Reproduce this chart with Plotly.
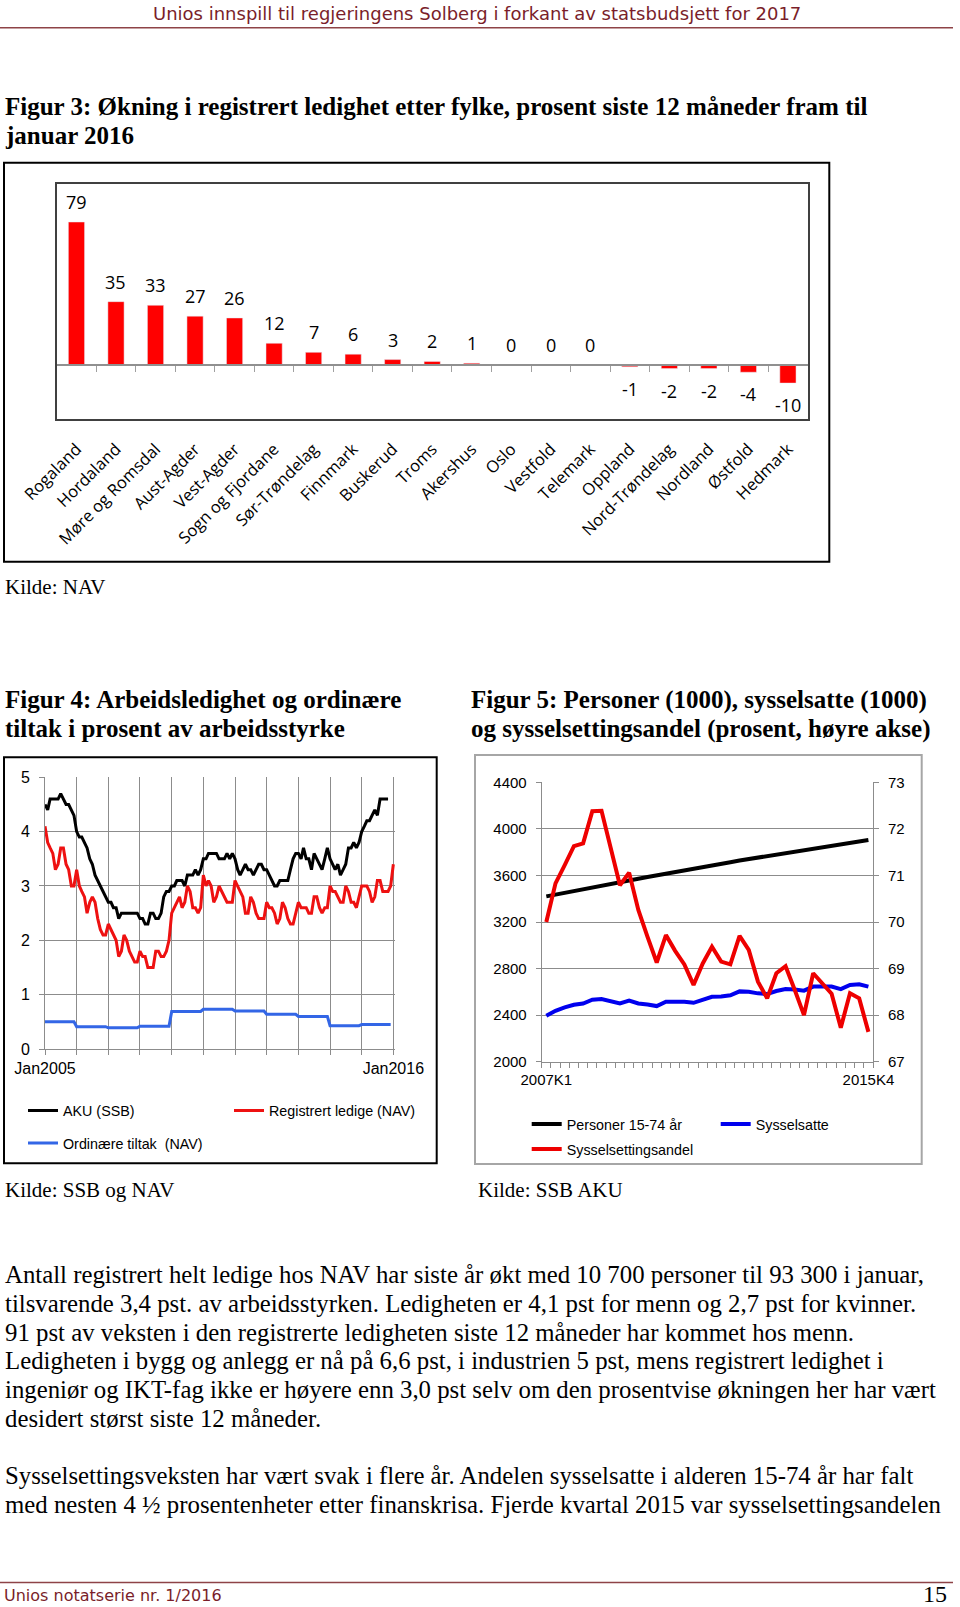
import plotly.graph_objects as go
import pandas as pd

W, H = 960, 1607
def fx(px): return px / W
def fy(py): return 1 - py / H

# ---------------- Figur 3 data ----------------
fylker = ["Rogaland", "Hordaland", "Møre og Romsdal", "Aust-Agder", "Vest-Agder",
          "Sogn og Fjordane", "Sør-Trøndelag", "Finnmark", "Buskerud", "Troms",
          "Akershus", "Oslo", "Vestfold", "Telemark", "Oppland", "Nord-Trøndelag",
          "Nordland", "Østfold", "Hedmark"]
okning = [79, 35, 33, 27, 26, 12, 7, 6, 3, 2, 1, 0, 0, 0, -1, -2, -2, -4, -10]

# ---------------- Figur 4 data (monthly from Jan 2005) ----------------
aku_ssb = [4.5, 4.4, 4.6, 4.6, 4.6, 4.6, 4.7, 4.6, 4.5, 4.5, 4.4, 4.3,
           4.0, 3.9, 3.9, 3.8, 3.7, 3.5, 3.4, 3.2, 3.1, 3.0, 2.9, 2.8,
           2.7, 2.7, 2.6, 2.6, 2.4, 2.5, 2.5, 2.5, 2.5, 2.5, 2.5, 2.5,
           2.4, 2.4, 2.3, 2.3, 2.5, 2.5, 2.4, 2.4, 2.5, 2.8, 2.9, 2.9,
           3.0, 3.0, 3.1, 3.1, 3.1, 3.0, 3.2, 3.2, 3.2, 3.3, 3.2, 3.3,
           3.5, 3.5, 3.6, 3.6, 3.6, 3.6, 3.5, 3.5, 3.5, 3.6, 3.5, 3.6,
           3.5, 3.3, 3.2, 3.3, 3.4, 3.3, 3.3, 3.2, 3.3, 3.4, 3.4, 3.3,
           3.3, 3.2, 3.1, 3.0, 3.0, 3.1, 3.1, 3.1, 3.1, 3.3, 3.5, 3.6,
           3.6, 3.5, 3.7, 3.5, 3.5, 3.3, 3.6, 3.5, 3.4, 3.3, 3.5, 3.7,
           3.5, 3.4, 3.3, 3.4, 3.2, 3.3, 3.4, 3.7, 3.7, 3.8, 3.7, 3.8,
           4.0, 4.1, 4.2, 4.2, 4.3, 4.4, 4.3, 4.6, 4.6, 4.6, 4.6]
registrert_nav = [4.1, 3.8, 3.7, 3.6, 3.3, 3.4, 3.7, 3.7, 3.4, 3.3, 3.0, 3.0,
                  3.3, 3.0, 2.9, 2.8, 2.5, 2.7, 2.8, 2.7, 2.4, 2.2, 2.1, 2.1,
                  2.3, 2.2, 2.1, 2.0, 1.7, 1.8, 2.1, 2.0, 1.8, 1.7, 1.6, 1.6,
                  1.8, 1.7, 1.7, 1.5, 1.5, 1.5, 1.8, 1.8, 1.7, 1.7, 1.8, 2.0,
                  2.5, 2.6, 2.7, 2.8, 2.6, 2.7, 3.0, 2.9, 2.6, 2.6, 2.5, 2.6,
                  3.2, 3.0, 3.1, 3.0, 2.7, 2.8, 3.0, 2.9, 2.8, 2.7, 2.7, 2.7,
                  3.1, 3.0, 2.9, 2.8, 2.5, 2.5, 2.8, 2.7, 2.5, 2.4, 2.4, 2.4,
                  2.7, 2.6, 2.6, 2.5, 2.3, 2.4, 2.7, 2.6, 2.4, 2.3, 2.3, 2.5,
                  2.7, 2.6, 2.6, 2.6, 2.5, 2.5, 2.8, 2.8, 2.6, 2.5, 2.6, 2.6,
                  3.0, 2.9, 2.9, 2.8, 2.7, 2.7, 3.0, 2.9, 2.7, 2.7, 2.6, 2.8,
                  3.0, 3.0, 3.0, 2.9, 2.7, 2.8, 3.1, 3.1, 2.9, 2.9, 2.9, 3.0, 3.4]
tiltak_aar = [2005, 2006, 2007, 2008, 2009, 2010, 2011, 2012, 2013, 2014, 2015]
tiltak_nav = [0.50, 0.41, 0.39, 0.42, 0.69, 0.73, 0.70, 0.64, 0.60, 0.43, 0.45]
fig4_tickyears = list(range(2005, 2017))
fig4_ticktext = ["Jan2005", "", "", "", "", "", "", "", "", "", "", "Jan2016"]

# ---------------- Figur 5 data (quarterly 2007K1-2015K4) ----------------
kvartaler = [f"{y}K{q}" for y in range(2007, 2016) for q in range(1, 5)]
personer = [3420, 3436, 3452, 3467, 3482, 3497, 3512, 3527, 3542, 3557, 3572, 3587,
            3602, 3616, 3630, 3644, 3658, 3672, 3686, 3700, 3714, 3728, 3741, 3754,
            3767, 3780, 3793, 3806, 3818, 3830, 3842, 3854, 3866, 3878, 3890, 3905]
sysselsatte = [2394, 2437, 2466, 2489, 2500, 2532, 2538, 2521, 2500, 2524, 2500, 2492,
               2478, 2515, 2515, 2515, 2506, 2535, 2558, 2561, 2570, 2604, 2601, 2587,
               2581, 2607, 2624, 2621, 2610, 2645, 2645, 2645, 2624, 2659, 2665, 2645]
andel = [70.0, 70.83, 71.22, 71.63, 71.69, 72.38, 72.39, 71.58, 70.79, 71.06, 70.26, 69.68,
         69.13, 69.72, 69.38, 69.09, 68.65, 69.11, 69.47, 69.15, 69.09, 69.70, 69.40, 68.72,
         68.36, 68.90, 69.05, 68.54, 68.0, 68.90, 68.67, 68.46, 67.73, 68.47, 68.36, 67.64]
fig5_ticktext = ["2007K1"] + [""] * 34 + ["2015K4"]

# ---------------- Text ----------------
header = "Unios innspill til regjeringens Solberg i forkant av statsbudsjett for 2017"
fig3_title = ["Figur 3: Økning i registrert ledighet etter fylke, prosent siste 12 måneder fram til",
              "januar 2016"]
fig4_title = ["Figur 4: Arbeidsledighet og ordinære", "tiltak i prosent av arbeidsstyrke"]
fig5_title = ["Figur 5: Personer (1000), sysselsatte (1000)",
              "og sysselsettingsandel (prosent, høyre akse)"]
body1 = ["Antall registrert helt ledige hos NAV har siste år økt med 10 700 personer til 93 300 i januar,",
         "tilsvarende 3,4 pst. av arbeidsstyrken. Ledigheten er 4,1 pst for menn og 2,7 pst for kvinner.",
         "91 pst av veksten i den registrerte ledigheten siste 12 måneder har kommet hos menn.",
         "Ledigheten i bygg og anlegg er nå på 6,6 pst, i industrien 5 pst, mens registrert ledighet i",
         "ingeniør og IKT-fag ikke er høyere enn 3,0 pst selv om den prosentvise økningen her har vært",
         "desidert størst siste 12 måneder."]
body2 = ["Sysselsettingsveksten har vært svak i flere år. Andelen sysselsatte i alderen 15-74 år har falt",
         "med nesten 4 ½ prosentenheter etter finanskrisa. Fjerde kvartal 2015 var sysselsettingsandelen"]

SERIF = "Liberation Serif"
SANS = "Liberation Sans"
DARKRED = "#7A1E2A"
GRID = "#8C8C8C"

fig = go.Figure()

# ---- Figur 3 ----
fig.add_trace(go.Bar(x=fylker, y=okning, marker_color="#FF0000", width=0.41,
                     xaxis="x", yaxis="y", showlegend=False, hoverinfo="skip"))
fig.add_trace(go.Scatter(x=[0], y=[0], xaxis="x2", yaxis="y", mode="markers",
                         marker=dict(opacity=0), showlegend=False, hoverinfo="skip"))

# ---- Figur 4 ----
aku_dates = pd.date_range("2005-01-01", periods=len(aku_ssb), freq="MS")
reg_dates = pd.date_range("2005-01-01", periods=len(registrert_nav), freq="MS")
tiltak_dates = pd.date_range(f"{tiltak_aar[0]}-01-01", periods=12 * len(tiltak_aar), freq="MS")
tiltak_monthly = [v for v in tiltak_nav for _ in range(12)]

fig.add_trace(go.Scatter(x=aku_dates, y=aku_ssb, mode="lines", name="AKU (SSB)",
                         line=dict(color="#000000", width=3), xaxis="x3", yaxis="y3",
                         legend="legend"))
fig.add_trace(go.Scatter(x=reg_dates, y=registrert_nav, mode="lines", name="Registrert ledige (NAV)",
                         line=dict(color="#EE1111", width=3), xaxis="x3", yaxis="y3",
                         legend="legend"))
fig.add_trace(go.Scatter(x=tiltak_dates, y=tiltak_monthly, mode="lines", name="Ordinære tiltak  (NAV)",
                         line=dict(color="#3366E6", width=3), xaxis="x3", yaxis="y3",
                         legend="legend2"))

# ---- Figur 5 ----
fig.add_trace(go.Scatter(x=kvartaler, y=personer, mode="lines", name="Personer 15-74 år",
                         line=dict(color="#000000", width=4), xaxis="x4", yaxis="y4",
                         legend="legend3"))
fig.add_trace(go.Scatter(x=kvartaler, y=sysselsatte, mode="lines", name="Sysselsatte",
                         line=dict(color="#0000EE", width=4), xaxis="x4", yaxis="y4",
                         legend="legend3"))
fig.add_trace(go.Scatter(x=kvartaler, y=andel, mode="lines", name="Sysselsettingsandel",
                         line=dict(color="#EE0000", width=4), xaxis="x4", yaxis="y5",
                         legend="legend4"))

# zero-line position of figur 3
f3_y0, f3_y1 = fy(419.3), fy(184)
f3_range = [-30, 100]
zero_pos = f3_y0 + (0 - f3_range[0]) / (f3_range[1] - f3_range[0]) * (f3_y1 - f3_y0)

annotations = []
for c, v in zip(fylker, okning):
    annotations.append(dict(x=c, y=v, xref="x", yref="y", text=str(v), showarrow=False,
                            yshift=20 if v >= 0 else -22,
                            font=dict(family="Open Sans", size=18, color="#000000")))

def txt(x, y, s, size, family=SERIF, bold=False, color="#000000", xanchor="left"):
    annotations.append(dict(x=fx(x), y=fy(y), xref="paper", yref="paper", text=s,
                            showarrow=False, xanchor=xanchor, yanchor="middle",
                            font=dict(family=family, size=size, color=color,
                                      weight="bold" if bold else "normal")))

txt(476.5, 13.5, header, 18, family="DejaVu Sans", color=DARKRED, xanchor="center")
txt(3, 106.6, fig3_title[0], 25, bold=True)
txt(3, 135.2, fig3_title[1], 25, bold=True)
txt(3, 587, "Kilde: NAV", 21)
txt(3, 699.8, fig4_title[0], 25, bold=True)
txt(3, 728.5, fig4_title[1], 25, bold=True)
txt(469, 699.8, fig5_title[0], 25, bold=True)
txt(469, 728.5, fig5_title[1], 25, bold=True)
txt(3, 1189.6, "Kilde: SSB og NAV", 21)
txt(476, 1189.6, "Kilde: SSB AKU", 21)
for i, line in enumerate(body1):
    txt(3, 1274.6 + 28.7 * i, line, 24.8)
for i, line in enumerate(body2):
    txt(3, 1475.4 + 28.7 * i, line, 24.8)
txt(2, 1595, "Unios notatserie nr. 1/2016", 16, family="DejaVu Sans", color=DARKRED)
txt(949, 1594, "15", 24, xanchor="right")

shapes = [
    dict(type="line", xref="paper", yref="paper", x0=fx(0), x1=fx(953), y0=fy(27.7), y1=fy(27.7),
         line=dict(color="#8E4347", width=1.5)),
    dict(type="rect", xref="paper", yref="paper", x0=fx(4), x1=fx(829.3), y0=fy(561.7), y1=fy(162.7),
         line=dict(color="#000000", width=2)),
    dict(type="rect", xref="paper", yref="paper", x0=fx(4), x1=fx(436.7), y0=fy(1163.3), y1=fy(757.3),
         line=dict(color="#000000", width=2)),
    dict(type="rect", xref="paper", yref="paper", x0=fx(475), x1=fx(921.7), y0=fy(1164), y1=fy(755),
         line=dict(color="#A6A6A6", width=2)),
    dict(type="line", xref="paper", yref="paper", x0=fx(0), x1=fx(953), y0=fy(1582.5), y1=fy(1582.5),
         line=dict(color="#8E4347", width=1.5)),
]

axis_font4 = dict(family=SANS, size=16, color="#000000")
axis_font5 = dict(family=SANS, size=15, color="#000000")
legend_common = dict(orientation="h", xanchor="left", yanchor="middle", bgcolor="rgba(0,0,0,0)",
                     borderwidth=0, font=dict(family=SANS, size=14.3, color="#000000"),
                     entrywidthmode="pixels", itemclick=False, itemdoubleclick=False)

fig.update_layout(
    width=W, height=H, margin=dict(l=0, r=0, t=0, b=0, pad=0, autoexpand=False),
    paper_bgcolor="white", plot_bgcolor="rgba(0,0,0,0)",
    xaxis=dict(domain=[fx(56.7), fx(807.7)], anchor="y", type="category",
               categoryorder="array", categoryarray=fylker,
               showline=True, mirror=True, linecolor="#404040", linewidth=1.5,
               ticks="", tickangle=-45, ticklabelstandoff=12,
               tickfont=dict(family="Open Sans", size=16.5, color="#000000"),
               showgrid=False, zeroline=False),
    yaxis=dict(domain=[f3_y0, f3_y1], anchor="x", range=f3_range, showline=True, mirror=True,
               linecolor="#404040", linewidth=1.5, showticklabels=False, ticks="",
               showgrid=False, zeroline=False),
    xaxis2=dict(overlaying="x", anchor="free", position=zero_pos, range=[-0.5, len(fylker) - 0.5],
                tickmode="array", tickvals=[i + 0.5 for i in range(len(fylker) - 1)],
                ticks="outside", ticklen=6, tickcolor="#A0A0A0", tickwidth=1.2,
                showticklabels=False, showline=True, linecolor="#909090", linewidth=1.5,
                showgrid=False, zeroline=False),
    xaxis3=dict(domain=[fx(45), fx(395)], anchor="y3", type="date",
                range=["2005-01-01", "2016-01-20"],
                tickmode="array", tickvals=[f"{y}-01-01" for y in fig4_tickyears], ticktext=fig4_ticktext,
                tickangle=0,
                ticks="outside", ticklen=5, tickcolor=GRID, showgrid=True, gridcolor=GRID, gridwidth=1,
                showline=True, linecolor=GRID, tickfont=axis_font4, zeroline=False),
    yaxis3=dict(domain=[fy(1049), fy(777.3)], anchor="x3", range=[0, 5], dtick=1, tick0=0,
                ticks="outside", ticklen=5, tickcolor=GRID, showgrid=True, gridcolor=GRID, gridwidth=1,
                showline=True, linecolor=GRID, tickfont=axis_font4, zeroline=False,
                ticklabelstandoff=6),
    xaxis4=dict(domain=[fx(541.7), fx(873)], anchor="y4", type="category",
                categoryorder="array", categoryarray=kvartaler, range=[-0.5, len(kvartaler) - 0.5],
                tickmode="array", tickvals=kvartaler, ticktext=fig5_ticktext, tickson="boundaries",
                tickangle=0, ticklabelstandoff=4,
                ticks="outside", ticklen=5, tickcolor=GRID, showline=True, linecolor=GRID,
                showgrid=False, tickfont=axis_font5, zeroline=False),
    yaxis4=dict(domain=[fy(1061.7), fy(782.3)], anchor="x4", range=[2000, 4400], dtick=400, tick0=2000,
                ticks="outside", ticklen=5, tickcolor=GRID, showgrid=True, gridcolor=GRID, gridwidth=1,
                showline=True, linecolor=GRID, tickfont=axis_font5, zeroline=False,
                ticklabelstandoff=6),
    yaxis5=dict(overlaying="y4", anchor="x4", side="right", range=[67, 73], dtick=1, tick0=67,
                ticks="outside", ticklen=5, tickcolor=GRID, showgrid=False,
                showline=True, linecolor=GRID, tickfont=axis_font5, zeroline=False,
                ticklabelstandoff=6),
    legend=dict(legend_common, x=fx(23), y=fy(1110.7), entrywidth=161),
    legend2=dict(legend_common, x=fx(23), y=fy(1143.3), entrywidth=161),
    legend3=dict(legend_common, x=fx(526.7), y=fy(1124.3), entrywidth=144),
    legend4=dict(legend_common, x=fx(526.7), y=fy(1149.3), entrywidth=144),
    annotations=annotations,
    shapes=shapes,
)

fig.write_html("out.html", config={"displayModeBar": False},
               post_script="document.body.style.margin='0px';")
